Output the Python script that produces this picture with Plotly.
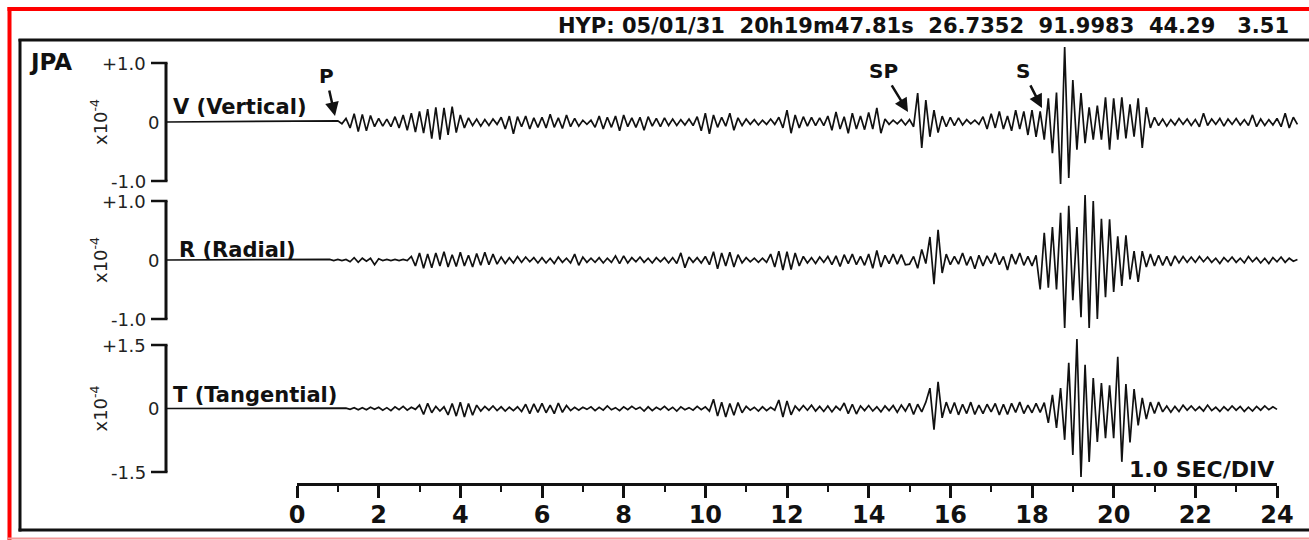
import plotly.graph_objects as go

# ---------------- data (amplitudes in hundredths of 1e-4, sampled every DT s) ----------------
DT = 0.1
REC_START = -3.2          # record start (s), flat before the P onset
V_T0, R_T0, T_T0 = 1.0, 0.8, 1.2

V_AMP = [
    2, -3, 6, -10, 14, -16, 13, -15, 11, -8,          # 1.0
    6, -7, 5, -8, 9, -10, 12, -14, 15, -17,           # 2.0
    18, -19, 22, -28, 25, -30, 24, -22, 26, -18,      # 3.0
    12, -10, 7, -6, 5, -7, 4, -6, 5, -4,              # 4.0
    8, -12, 10, -20, 9, -8, 10, -12, 7, -9,           # 5.0
    8, -10, 13, -9, 7, -11, 12, -8, 6, -7,            # 6.0
    3, -4, 3, -9, 10, -12, 8, -9, 10, -15,            # 7.0
    12, -8, 7, -9, 8, -14, 9, -7, 6, -8,              # 8.0
    7, -6, 5, -6, 4, -5, 5, -6, 9, -15,               # 9.0
    15, -20, 12, -9, 8, -7, 15, -14, 7, -6,           # 10.0
    5, -4, 4, -5, 3, -4, 5, -4, 8, -10,               # 11.0
    20, -19, 12, -10, 9, -7, 8, -6, 7, -6,            # 12.0
    10, -14, 17, -12, 9, -19, 15, -12, 10, -13,       # 13.0
    16, -12, 24, -19, 5, -4, 3, -3, 4, -5,            # 14.0
    4, -8, 49, -44, 37, -25, 20, -18, 10, -8,         # 15.0
    8, -6, 7, -5, 4, -3, 3, -4, 9, -12,               # 16.0
    14, -10, 18, -12, 10, -15, 20, -12, 18, -22,      # 17.0
    20, -25, 18, -30, 40, -53, 50, -105, 127, -95,    # 18.0
    71, -47, 49, -36, 25, -30, 28, -30, 42, -47,      # 19.0
    40, -30, 42, -28, 30, -25, 40, -44, 25, -10,      # 20.0
    8, -6, 5, -7, 4, -5, 6, -4, 5, -6,                # 21.0
    4, -8, 15, -6, 5, -4, 6, -7, 5, -4,               # 22.0
    6, -5, 4, -6, 12, -8, 5, -6, 4, -5,               # 23.0
    6, -8, 15, -10, 8, -4,                            # 24.0
]

R_AMP = [
    1, -1,                                            # 0.8
    1, -1, 1, -3, 4, -4, 3, -2, 3, -8,                # 1.0
    2, -1, 1, -1, 1, -1, 1, -1, 6, -10,               # 2.0
    12, -14, 10, -13, 12, -10, 14, -12, 9, -11,       # 3.0
    13, -10, 8, -12, 11, -9, 13, -8, 10, -7,          # 4.0
    5, -6, 4, -5, 6, -4, 5, -3, 4, -5,                # 5.0
    4, -5, 3, -6, 5, -4, 3, -5, 10, -9,               # 6.0
    5, -4, 3, -4, 4, -5, 3, -4, 7, -6,                # 7.0
    7, -5, 4, -3, 5, -4, 3, -5, 4, -3,                # 8.0
    4, -5, 4, -6, 12, -13, 5, -4, 4, -5,              # 9.0
    6, -8, 14, -15, 12, -10, 13, -12, 9, -5,          # 10.0
    4, -3, 3, -4, 3, -4, 10, -12, 15, -17,            # 11.0
    14, -16, 12, -10, 6, -5, 4, -6, 5, -4,            # 12.0
    6, -8, 7, -11, 9, -6, 10, -8, 6, -9,              # 13.0
    10, -14, 16, -12, 8, -6, 10, -7, 9, -8,           # 14.0
    -7, 6, -14, 18, -6, 39, -41, 51, -22, 10,         # 15.0
    -8, 6, -7, 12, -9, 6, -15, 8, -10, 7,             # 16.0
    -6, 12, -8, 6, -17, 10, -7, 12, -9, 6,            # 17.0
    -10, 8, -50, 46, -47, 56, -50, 80, -115, 92,      # 18.0
    -68, 56, -97, 110, -115, 100, -100, 70, -63, 69,  # 19.0
    -54, 40, -44, 42, -33, 15, -37, 15, -12, 10,      # 20.0
    -10, 8, -9, 6, -10, 7, -5, 6, -4, 5,              # 21.0
    -4, 6, -3, 5, -4, 3, -6, 4, -3, 5,                # 22.0
    -4, 3, -5, 6, -3, 4, -5, 3, -6, 4,                # 23.0
    -3, 5, -4, 3, -2, 1,                              # 24.0
]

T_AMP = [
    1, -2, 2, -3, 2, -3, 3, -2,                       # 1.2
    3, -4, 2, -5, 4, -3, 5, -4, 3, -2,                # 2.0
    8, -14, 12, -10, 5, -6, 4, -15, 12, -18,          # 3.0
    15, -20, 12, -16, 8, -6, 5, -4, 6, -5,            # 4.0
    4, -6, 3, -5, 4, -7, 10, -12, 11, -9,             # 5.0
    12, -10, 8, -12, 13, -9, 7, -5, 3, -4,            # 6.0
    3, -2, 4, -5, 3, -4, 6, -3, 2, -5,                # 7.0
    4, -3, 5, -2, 3, -6, 4, -5, 3, -3,                # 8.0
    5, -4, 3, -6, 4, -3, 2, -4, 5, -3,                # 9.0
    4, -6, 22, -18, 15, -20, 12, -16, 14, -10,        # 10.0
    5, -4, 3, -6, 4, -5, 3, -4, 20, -20,              # 11.0
    18, -15, 6, -5, 7, -4, 8, -6, 5, -7,              # 12.0
    6, -8, 5, -4, 13, -12, 10, -13, 6, -5,            # 13.0
    7, -6, 4, -8, 6, -5, 7, -9, 8, -6,                # 14.0
    12, -14, 10, -8, 15, 48, -50, 63, -22, 15,        # 15.0
    -12, 14, -15, 10, -12, 15, -14, 8, -12, 10,       # 16.0
    -8, 12, -15, 10, -14, 12, -9, 15, -12, 8,         # 17.0
    -10, 12, -9, 14, -34, 32, -46, 48, -74, 108,      # 18.0
    -110, 164, -162, 103, -126, 72, -79, 60, -70, 55, # 19.0
    -70, 122, -126, 58, -80, 46, -40, 25, -25, 15,    # 20.0
    -12, 15, -8, 6, -9, 5, -7, 8, -4, 6,              # 21.0
    -5, 4, -6, 8, -5, 3, -7, 4, -5, 6,                # 22.0
    -4, 5, -7, 3, -6, 5, -4, 6, -3, 4,                # 23.0
    -2,                                               # 24.0
]

CHANNELS = ["V (Vertical)", "R (Radial)", "T (Tangential)"]
SCALE_MAX = [1.0, 1.0, 1.5]
SCALE_TEXT = [["+1.0", "0", "-1.0"], ["+1.0", "0", "-1.0"], ["+1.5", "0", "-1.5"]]
STATION = "JPA"
HEADER = "HYP: 05/01/31  20h19m47.81s  26.7352  91.9983  44.29   3.51"
PHASES = ["P", "SP", "S"]
X_TICKS_MAJOR = 2
X_RANGE = [0, 24]
SEC_LABEL = "1.0 SEC/DIV"

# ---------------- layout geometry (pixels) ----------------
W, H = 1309, 540
X0_PX, X24_PX = 297, 1277
PPS = (X24_PX - X0_PX) / 24.0
# rows: (domain top px, domain bottom px, zero px, px per unit)
ROWS = [(40, 192, 122, 59.0), (192, 335, 260, 59.0), (335, 483, 408.5, 42.33)]

def px(x):
    return x / W

def py(y):
    return 1 - y / H

def times(t0, n):
    return [round(t0 + i * DT, 3) for i in range(n)]

BLACK = "#111111"
FONT = "DejaVu Sans"

fig = go.Figure()
series = [(V_T0, V_AMP), (R_T0, R_AMP), (T_T0, T_AMP)]
for i, (t0, amp) in enumerate(series):
    t = times(t0, len(amp))
    xs = [REC_START] + t
    ys = [0.0] + [a / 100.0 for a in amp]
    fig.add_trace(go.Scatter(
        x=xs, y=ys, mode="lines", xaxis="x", yaxis="y" if i == 0 else f"y{i+1}",
        line=dict(color=BLACK, width=1.7), hoverinfo="skip", showlegend=False))

# carrier trace for the time axis
fig.add_trace(go.Scatter(x=X_RANGE, y=[0, 0], xaxis="x2", yaxis="y3", mode="markers",
                         marker=dict(opacity=0), hoverinfo="skip", showlegend=False))

layout = dict(
    width=W, height=H, template="none",
    margin=dict(l=0, r=0, t=0, b=0, pad=0),
    paper_bgcolor="white", plot_bgcolor="rgba(0,0,0,0)",
    showlegend=False,
    xaxis=dict(domain=[0, 1], range=[-X0_PX / PPS, (W - X0_PX) / PPS], visible=False,
               fixedrange=True),
    xaxis2=dict(domain=[px(X0_PX), px(X24_PX)], range=X_RANGE, anchor="y3",
                showline=True, linecolor=BLACK, linewidth=2.5, showgrid=False, zeroline=False,
                ticks="outside", ticklen=12, tickwidth=2.5, tickcolor=BLACK,
                dtick=X_TICKS_MAJOR, tick0=0,
                minor=dict(dtick=1, ticks="outside", ticklen=6, tickwidth=2, tickcolor=BLACK,
                           showgrid=False),
                tickfont=dict(family=FONT, size=24, color=BLACK, weight="bold"),
                ticklabelstandoff=-4, automargin=False),
)
for i, (top, bot, zero, s) in enumerate(ROWS):
    key = "yaxis" if i == 0 else f"yaxis{i+1}"
    layout[key] = dict(domain=[py(bot), py(top)], range=[-(bot - zero) / s, (zero - top) / s],
                       visible=False, anchor="x", fixedrange=True)
fig.update_layout(**layout)

shapes = []
annotations = []
BRACKET_X = 166
STUB_X = 151
for i, (top, bot, zero, s) in enumerate(ROWS):
    yref = "y" if i == 0 else f"y{i+1}"
    m = SCALE_MAX[i]
    shapes.append(dict(type="line", xref="paper", yref=yref, x0=px(BRACKET_X), x1=px(BRACKET_X),
                       y0=-m, y1=m, line=dict(color=BLACK, width=3)))
    for v in (m, -m):
        shapes.append(dict(type="line", xref="paper", yref=yref, x0=px(STUB_X), x1=px(BRACKET_X + 1.5),
                           y0=v, y1=v, line=dict(color=BLACK, width=2.5)))
    for v, txt in zip((m, 0, -m), SCALE_TEXT[i]):
        annotations.append(dict(xref="paper", yref=yref, x=px(147 if v != 0 else 160), y=v,
                                text=txt, showarrow=False, xanchor="right", yanchor="middle",
                                borderpad=0,
                                font=dict(family=FONT, size=18, color="#222")))
    annotations.append(dict(xref="paper", yref=yref, x=px(99), y=0,
                            text="x10<sup>-4</sup>", textangle=-90, showarrow=False,
                            xanchor="center", yanchor="middle",
                            font=dict(family=FONT, size=18, color="#222")))

# channel names
for (cx, cy), txt in zip([(171, 107), (177, 250), (171, 395)], CHANNELS):
    annotations.append(dict(xref="paper", yref="paper", x=px(cx), y=py(cy), text=txt,
                            showarrow=False, xanchor="left", yanchor="middle",
                            font=dict(family=FONT, size=21, color=BLACK, weight="bold")))

annotations.append(dict(xref="paper", yref="paper", x=px(27), y=py(62), text=STATION,
                        showarrow=False, xanchor="left", yanchor="middle",
                        font=dict(family=FONT, size=23, color=BLACK, weight="bold")))
annotations.append(dict(xref="paper", yref="paper", x=px(1291), y=py(26), text=HEADER,
                        showarrow=False, xanchor="right", yanchor="middle",
                        font=dict(family=FONT, size=21, color=BLACK, weight="bold")))
annotations.append(dict(xref="paper", yref="paper", x=px(1276), y=py(469), text=SEC_LABEL,
                        showarrow=False, xanchor="right", yanchor="middle",
                        font=dict(family=FONT, size=22, color=BLACK, weight="bold")))

# phase picks: (tip px, label offset px)
for txt, (tx, ty), (ax, ay) in zip(PHASES, [(335, 116), (908, 112), (1042, 108)],
                                   [(-9, -40), (-25, -41), (-19, -37)]):
    annotations.append(dict(xref="paper", yref="paper", x=px(tx), y=py(ty), text=txt,
                            showarrow=True, ax=ax, ay=ay, arrowhead=2, arrowsize=1.1,
                            arrowwidth=2.5, arrowcolor=BLACK, standoff=0, startstandoff=1,
                            font=dict(family=FONT, size=20, color=BLACK, weight="bold")))

# frames
shapes += [
    dict(type="line", xref="paper", yref="paper", x0=px(9.5), x1=px(9.5), y0=py(7), y1=py(540),
         line=dict(color="#ff0000", width=4)),
    dict(type="line", xref="paper", yref="paper", x0=px(7.5), x1=1, y0=py(9), y1=py(9),
         line=dict(color="#ff0000", width=4)),
    dict(type="line", xref="paper", yref="paper", x0=px(8), x1=1, y0=py(538.5), y1=py(538.5),
         line=dict(color="#f29a9a", width=2)),
    dict(type="line", xref="paper", yref="paper", x0=px(20), x1=px(20), y0=py(39), y1=py(531.5),
         line=dict(color=BLACK, width=3)),
    dict(type="line", xref="paper", yref="paper", x0=px(18.5), x1=1, y0=py(40), y1=py(40),
         line=dict(color=BLACK, width=3)),
    dict(type="line", xref="paper", yref="paper", x0=px(18.5), x1=1, y0=py(530), y1=py(530),
         line=dict(color=BLACK, width=3)),
]
fig.update_layout(shapes=shapes, annotations=annotations)
fig.write_html("out.html")
